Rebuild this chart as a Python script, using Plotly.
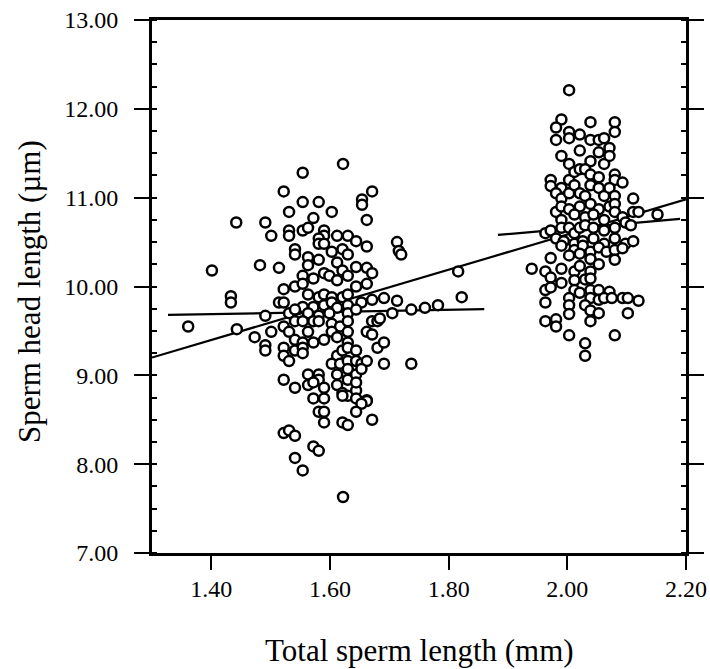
import plotly.graph_objects as go

# ---- data (total sperm length mm, sperm head length um) ----
left_x = [1.622, 1.554, 1.522, 1.554, 1.581, 1.603, 1.531, 1.572, 1.671, 1.654, 1.654, 1.662,
          1.442, 1.491, 1.501, 1.531, 1.531, 1.554, 1.563, 1.590, 1.590, 1.581, 1.612, 1.630,
          1.644, 1.662, 1.541, 1.541, 1.563, 1.563, 1.581, 1.590, 1.603, 1.621, 1.630, 1.581,
          1.590, 1.612, 1.621, 1.644, 1.662, 1.671, 1.482, 1.514, 1.401, 1.433, 1.433, 1.443,
          1.491, 1.522, 1.541, 1.514, 1.522, 1.554, 1.572, 1.554, 1.599, 1.612, 1.630, 1.644,
          1.662, 1.563, 1.581, 1.590, 1.603, 1.621, 1.630, 1.653, 1.671, 1.554, 1.572, 1.590,
          1.603, 1.612, 1.630, 1.531, 1.541, 1.563, 1.581, 1.599, 1.630, 1.644, 1.501, 1.522,
          1.541, 1.554, 1.572, 1.581, 1.603, 1.617, 1.630, 1.630, 1.671, 1.680, 1.473, 1.491,
          1.491, 1.531, 1.541, 1.554, 1.563, 1.572, 1.590, 1.603, 1.612, 1.630, 1.662, 1.671,
          1.680, 1.522, 1.522, 1.531, 1.541, 1.554, 1.554, 1.612, 1.621, 1.630, 1.644, 1.603,
          1.617, 1.630, 1.644, 1.653, 1.662, 1.522, 1.541, 1.563, 1.563, 1.581, 1.581, 1.590,
          1.612, 1.612, 1.630, 1.630, 1.644, 1.653, 1.662, 1.621, 1.630, 1.644, 1.572, 1.644,
          1.572, 1.590, 1.621, 1.644, 1.662, 1.653, 1.581, 1.590, 1.644, 1.590, 1.621, 1.630,
          1.671, 1.522, 1.531, 1.541, 1.572, 1.581, 1.541, 1.554, 1.622, 1.713, 1.716, 1.720,
          1.816, 1.691, 1.684, 1.705, 1.713, 1.737, 1.760, 1.782, 1.822, 1.691, 1.691, 1.737,
          1.361]
left_y = [11.38, 11.28, 11.07, 10.95, 10.95, 10.84, 10.84, 10.77, 11.07, 10.98, 10.92, 10.75,
          10.72, 10.72, 10.57, 10.63, 10.57, 10.63, 10.66, 10.63, 10.57, 10.54, 10.57, 10.57,
          10.51, 10.45, 10.42, 10.36, 10.33, 10.24, 10.48, 10.48, 10.39, 10.42, 10.36, 10.30,
          10.15, 10.27, 10.18, 10.22, 10.21, 10.15, 10.24, 10.21, 10.18, 9.89, 9.82, 9.52,
          9.67, 9.97, 10.00, 9.82, 9.82, 10.12, 10.09, 10.03, 10.12, 10.07, 10.12, 10.00,
          10.03, 9.91, 9.88, 9.91, 9.88, 9.88, 9.91, 9.82, 9.85, 9.77, 9.77, 9.79,
          9.82, 9.76, 9.79, 9.70, 9.74, 9.70, 9.67, 9.70, 9.70, 9.74, 9.49, 9.55,
          9.61, 9.61, 9.61, 9.61, 9.58, 9.55, 9.61, 9.49, 9.61, 9.61, 9.43, 9.34,
          9.28, 9.49, 9.40, 9.37, 9.49, 9.37, 9.40, 9.49, 9.43, 9.37, 9.49, 9.46,
          9.31, 9.31, 9.22, 9.16, 9.28, 9.31, 9.25, 9.22, 9.28, 9.31, 9.28, 9.13,
          9.13, 9.16, 9.16, 9.13, 9.16, 8.95, 8.86, 9.01, 8.89, 9.01, 8.95, 8.86,
          9.01, 8.89, 9.07, 8.95, 9.01, 9.07, 8.72, 8.80, 8.77, 8.83, 8.92, 8.92,
          8.74, 8.74, 8.77, 8.74, 8.71, 8.68, 8.59, 8.59, 8.59, 8.47, 8.47, 8.44,
          8.50, 8.35, 8.38, 8.32, 8.20, 8.15, 8.07, 7.93, 7.63, 10.50, 10.40, 10.36,
          10.17, 9.87, 9.64, 9.70, 9.84, 9.74, 9.76, 9.79, 9.88, 9.37, 9.13, 9.13,
          9.55]

right_x = [2.003, 1.990, 1.981, 1.981, 2.003, 2.003, 2.021, 2.039, 2.039, 2.053, 2.062, 2.080,
           2.080, 1.990, 2.003, 2.021, 2.039, 2.053, 2.062, 2.071, 2.071, 1.972, 1.972, 1.990,
           2.003, 2.012, 2.021, 2.030, 2.039, 2.053, 2.080, 2.080, 2.093, 1.981, 1.990, 2.003,
           2.012, 2.021, 2.030, 2.039, 2.053, 2.062, 2.071, 2.080, 2.111, 1.981, 1.990, 2.003,
           2.021, 2.039, 2.053, 2.071, 2.080, 2.080, 1.990, 2.012, 2.030, 2.044, 2.062, 2.093,
           2.111, 2.120, 2.152, 1.963, 1.972, 1.990, 2.003, 2.012, 2.021, 2.030, 2.044, 2.062,
           2.080, 2.098, 2.107, 1.981, 1.994, 2.012, 2.026, 2.044, 2.062, 2.080, 2.098, 2.111,
           1.990, 2.012, 2.026, 2.039, 2.053, 2.066, 2.080, 2.093, 1.972, 2.003, 2.021, 2.039,
           2.053, 2.080, 1.940, 1.963, 1.990, 2.012, 2.021, 2.039, 1.972, 1.990, 2.012, 2.030,
           2.039, 1.963, 1.972, 2.012, 2.021, 2.039, 2.053, 2.071, 2.093, 2.102, 2.120, 2.003,
           2.039, 2.053, 2.062, 2.075, 1.963, 2.003, 2.030, 2.039, 2.053, 2.102, 2.003, 1.963,
           1.981, 1.981, 2.039, 2.003, 2.080, 2.030, 2.030]
right_y = [12.21, 11.88, 11.79, 11.65, 11.74, 11.67, 11.71, 11.85, 11.65, 11.65, 11.67, 11.85,
           11.74, 11.47, 11.38, 11.53, 11.41, 11.51, 11.38, 11.56, 11.47, 11.20, 11.13, 11.11,
           11.20, 11.29, 11.32, 11.32, 11.26, 11.23, 11.26, 11.20, 11.17, 11.05, 10.99, 11.05,
           11.14, 11.05, 11.02, 11.14, 11.11, 11.02, 11.11, 11.02, 10.99, 10.84, 10.90, 10.87,
           10.90, 10.93, 10.87, 10.90, 10.93, 10.84, 10.75, 10.81, 10.78, 10.81, 10.75, 10.78,
           10.84, 10.84, 10.81, 10.60, 10.63, 10.66, 10.66, 10.60, 10.66, 10.69, 10.66, 10.63,
           10.66, 10.72, 10.69, 10.54, 10.51, 10.48, 10.51, 10.54, 10.48, 10.54, 10.48, 10.51,
           10.46, 10.41, 10.46, 10.39, 10.44, 10.39, 10.41, 10.43, 10.32, 10.35, 10.37, 10.31,
           10.25, 10.30, 10.20, 10.17, 10.20, 10.17, 10.23, 10.17, 10.10, 10.04, 10.07, 10.08,
           10.09, 9.96, 9.99, 9.96, 9.93, 9.96, 9.96, 9.94, 9.87, 9.87, 9.84, 9.87,
           9.87, 9.85, 9.87, 9.87, 9.82, 9.79, 9.79, 9.73, 9.70, 9.70, 9.69, 9.61,
           9.63, 9.55, 9.61, 9.45, 9.45, 9.36, 9.22]

# regression fits: (intercept, slope, x_start, x_end)
fit_all = (6.629, 1.978, 1.30, 2.20)
fit_left = (9.521, 0.12, 1.327, 1.86)
fit_right = (9.477, 0.586, 1.883, 2.19)

x_ticks = [1.40, 1.60, 1.80, 2.00, 2.20]
y_ticks = [7.00, 8.00, 9.00, 10.00, 11.00, 12.00, 13.00]

FONT = "Liberation Serif, Times New Roman, serif"

fig = go.Figure()
for b0, b1, xa, xb in (fit_all, fit_left, fit_right):
    fig.add_trace(go.Scatter(x=[xa, xb], y=[b0 + b1 * xa, b0 + b1 * xb], mode="lines",
                             line=dict(color="black", width=2.2), hoverinfo="skip",
                             showlegend=False))

fig.add_trace(go.Scatter(x=left_x + right_x, y=left_y + right_y, mode="markers",
                         marker=dict(symbol="circle", size=10, color="white",
                                     line=dict(color="black", width=2.5)),
                         showlegend=False))

fig.update_layout(
    width=710, height=669,
    margin=dict(l=152, r=24, t=20, b=116, autoexpand=False),
    paper_bgcolor="white", plot_bgcolor="white",
    font=dict(family=FONT, size=24, color="black"),
    xaxis=dict(range=[1.30, 2.20], tickvals=x_ticks, tickformat=".2f",
               ticks="outside", ticklen=14, tickwidth=2, tickcolor="black",
               showline=True, linecolor="black", linewidth=3, mirror=True,
               showgrid=False, zeroline=False, ticklabelstandoff=-2, automargin=False,
               ticklabeloverflow="allow"),
    yaxis=dict(range=[7.00, 13.00], tickvals=y_ticks, tickformat=".2f",
               ticks="outside", ticklen=15, tickwidth=2, tickcolor="black",
               showline=True, linecolor="black", linewidth=3, mirror="ticks",
               showgrid=False, zeroline=False, ticklabelstandoff=11, automargin=False,
               ticklabeloverflow="allow",
               minor=dict(ticks="inside", ticklen=5, tickwidth=2, tickcolor="black",
                          dtick=0.25, tick0=7.0, showgrid=False)),
    annotations=[
        dict(text="Total sperm length (mm)", xref="paper", yref="paper", x=0.5, y=-0.182,
             xanchor="center", yanchor="middle", showarrow=False,
             font=dict(family=FONT, size=31, color="black")),
        dict(text="Sperm head length (µm)", xref="paper", yref="paper", x=-0.228, y=0.49,
             xanchor="center", yanchor="middle", showarrow=False, textangle=-90,
             font=dict(family=FONT, size=31, color="black")),
    ],
)

fig.write_html("out.html", config={"displayModeBar": False},
               post_script="document.body.style.margin='0';")
